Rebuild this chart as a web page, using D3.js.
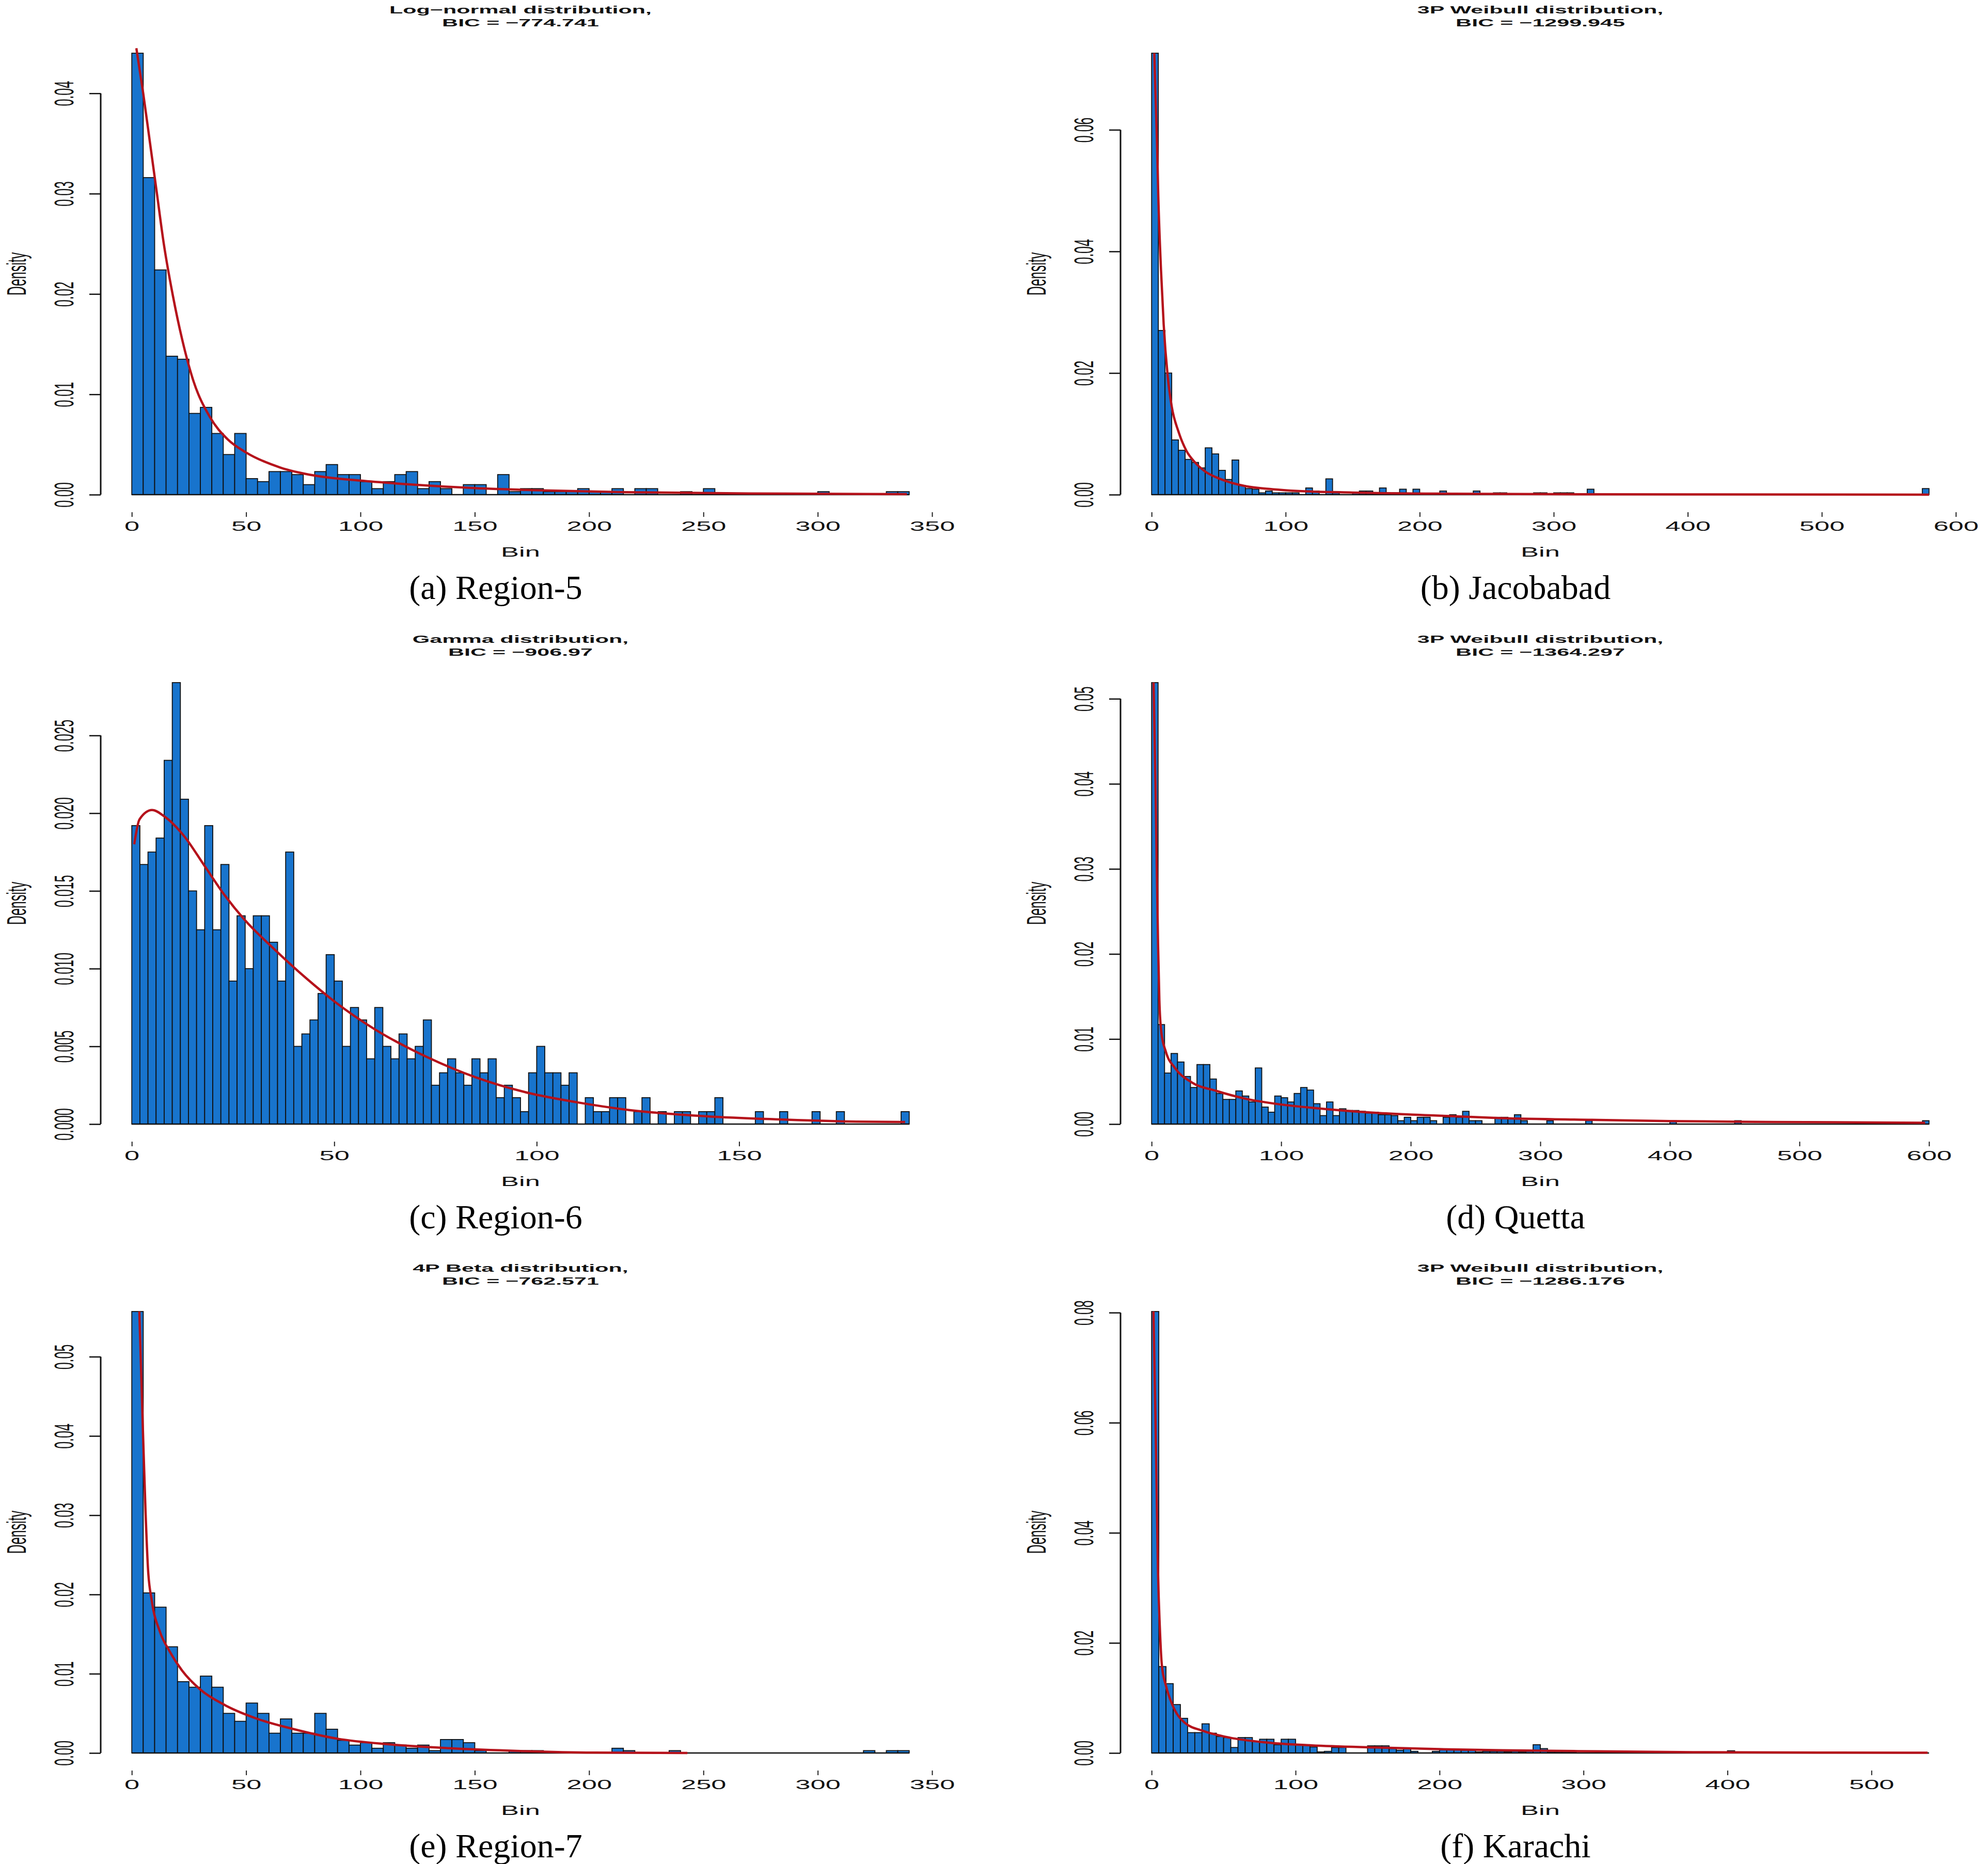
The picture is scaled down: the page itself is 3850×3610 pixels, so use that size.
<!DOCTYPE html>
<html>
<head>
<meta charset="utf-8">
<script src="https://cdn.jsdelivr.net/npm/d3@7"></script>
<style>
  body { margin: 0; background: #fff; }
  text { font-family: "Liberation Sans", Arial, sans-serif; }
</style>
</head>
<body>
<div id="fig"></div>
<script>
// ---- histogram densities (bins start at 0) and fitted curve points ----
var region5Bars = [0.0440,0.0316,0.0224,0.0138,0.0135,0.0081,0.0087,0.0061,0.0040,0.0061,
  0.0016,0.0013,0.0023,0.0023,0.0020,0.0010,0.0023,0.0030,0.0020,0.0020,
  0.0013,0.0006,0.0013,0.0020,0.0023,0.0006,0.0013,0.0006,0,0.0010,
  0.0010,0,0.0020,0.0003,0.0006,0.0006,0.0003,0.0003,0.0003,0.0006,
  0.0003,0.0003,0.0006,0,0.0006,0.0006,0,0,0.0003,0,
  0.0006,0,0,0,0,0,0,0,0,0,
  0.0003,0,0,0,0,0,0.0003,0.0003];
var region5Curve = [[2,0.0445],[5,0.0400],[8,0.0350],[11,0.0300],[14,0.0250],[18,0.0198],[22,0.0155],
  [27,0.0113],[34,0.0078],[42,0.0055],[50,0.0042],[65,0.0027],[80,0.0019],[100,0.0014],[121,0.00103],
  [150,0.00065],[175,0.00045],[216,0.00025],[270,0.00012],[339,0.00005]];

var jacobabadBars = [0.0726,0.0270,0.0200,0.0090,0.0073,0.0058,0.0053,0.0044,0.0077,0.0067,
  0.0040,0.0025,0.0057,0.0015,0.0010,0.0009,0.0003,0.0006,0.0003,0.0003,
  0.0003,0.0003,0,0.0011,0.0006,0,0.0026,0.0003,0,0,
  0.0003,0.0006,0.0006,0,0.0011,0,0.0003,0.0009,0,0.0009,
  0,0,0,0.0006,0,0,0,0,0.0006,0,
  0,0.0003,0.0003,0,0,0,0,0.0003,0.0003,0,
  0.0003,0.0003,0.0003,0,0,0.0009,0,0,0,0,
  0,0,0,0,0,0,0,0,0,0,
  0,0,0,0,0,0,0,0,0,0,
  0,0,0,0,0,0,0,0,0,0,
  0,0,0,0,0,0,0,0,0,0,
  0,0,0,0,0,0.0010];
var jacobabadCurve = [[2,0.0726],[4,0.058],[5,0.049],[7,0.037],[9,0.028],[12,0.0195],[15,0.0145],
  [20,0.0104],[26,0.0072],[32,0.0054],[40,0.0038],[51,0.0026],[70,0.0014],[90,0.0009],[110,0.0006],
  [150,0.00035],[225,0.00015],[300,0.00008],[400,0.00004],[580,0.00001]];

var region6Bars = [0.0192,0.0167,0.0175,0.0184,0.0234,0.0284,0.0209,0.0150,0.0125,0.0192,
  0.0125,0.0167,0.0092,0.0134,0.0100,0.0134,0.0134,0.0117,0.0092,0.0175,
  0.0050,0.0058,0.0067,0.0084,0.0109,0.0092,0.0050,0.0075,0.0067,0.0042,
  0.0075,0.0050,0.0042,0.0058,0.0042,0.0050,0.0067,0.0025,0.0033,0.0042,
  0.0033,0.0025,0.0042,0.0033,0.0042,0.0017,0.0025,0.0017,0.0008,0.0033,
  0.0050,0.0033,0.0033,0.0025,0.0033,0,0.0017,0.0008,0.0008,0.0017,
  0.0017,0,0.0008,0.0017,0,0.0008,0,0.0008,0.0008,0,
  0.0008,0.0008,0.0017,0,0,0,0,0.0008,0,0,
  0.0008,0,0,0,0.0008,0,0,0.0008,0,0,
  0,0,0,0,0,0.0008];
var region6Curve = [[0.6,0.0180],[1.9,0.0196],[5,0.0202],[8,0.0198],[13,0.0185],[18,0.0166],[23,0.0147],
  [28,0.0131],[35,0.0113],[43,0.0094],[50,0.0079],[60,0.0061],[73,0.0043],[85,0.0030],[98,0.0020],
  [110,0.0014],[123,0.0009],[142,0.0005],[160,0.0003],[179,0.00016],[191,0.00013]];

var quettaBars = [0.0519,0.0117,0.0060,0.0083,0.0073,0.0056,0.0043,0.0070,0.0070,0.0053,
  0.0036,0.0029,0.0029,0.0039,0.0033,0.0026,0.0066,0.0020,0.0014,0.0033,
  0.0031,0.0026,0.0036,0.0043,0.0040,0.0024,0.0010,0.0026,0.0010,0.0018,
  0.0016,0.0016,0.0015,0.0013,0.0014,0.0011,0.0011,0.0010,0.0004,0.0008,
  0.0004,0.0008,0.0008,0.0004,0,0.0008,0.0011,0.0008,0.0015,0.0004,
  0.0004,0,0,0.0008,0.0008,0.0006,0.0011,0.0004,0,0,
  0,0.0004,0,0,0,0,0,0.0004,0,0,
  0,0,0,0,0,0,0,0,0,0,
  0.0004,0,0,0,0,0,0,0,0,0,
  0.0004,0,0,0,0,0,0,0,0,0,
  0,0,0,0,0,0,0,0,0,0,
  0,0,0,0,0,0,0,0,0,0.0004];
var quettaCurve = [[1.5,0.0519],[3,0.040],[4,0.030],[5,0.021],[6,0.0145],[7.5,0.0108],[11,0.0085],
  [18,0.0066],[31,0.0049],[50,0.0039],[72,0.0030],[100,0.0023],[125,0.0019],[175,0.0013],[220,0.0010],
  [270,0.0007],[340,0.0005],[400,0.00035],[480,0.00025],[597,0.00015]];

var region7Bars = [0.0557,0.0202,0.0184,0.0134,0.0090,0.0083,0.0097,0.0083,0.0050,0.0040,
  0.0063,0.0050,0.0025,0.0043,0.0025,0.0025,0.0050,0.0030,0.0016,0.0010,
  0.0013,0.0006,0.0013,0.0010,0.0006,0.0010,0.0003,0.0017,0.0017,0.0013,
  0.0003,0,0,0.0003,0.0003,0.0003,0,0,0,0,
  0,0,0.0006,0.0003,0,0,0,0.0003,0,0,
  0,0,0,0,0,0,0,0,0,0,
  0,0,0,0,0.0003,0,0.0003,0.0003];
var region7Curve = [[3.3,0.0557],[4.9,0.0404],[6,0.0306],[7.1,0.0232],[8.7,0.0193],[12.3,0.0153],
  [16.4,0.0129],[22,0.0104],[30,0.0080],[41,0.0060],[55,0.0043],[71,0.0030],[90,0.0018],[112,0.0011],
  [139,0.0006],[170,0.00025],[202,0.00005],[243,0]];

var karachiBars = [0.0802,0.0157,0.0126,0.0088,0.0063,0.0037,0.0037,0.0053,0.0036,0.0030,
  0.0028,0.0010,0.0028,0.0028,0.0021,0.0025,0.0025,0.0015,0.0025,0.0025,
  0.0014,0.0014,0.0011,0.0002,0.0003,0.0010,0.0010,0,0,0,
  0.0013,0.0013,0.0013,0.0008,0.0005,0.0008,0.0003,0,0,0.0003,
  0.0006,0.0006,0.0006,0.0005,0.0005,0.0002,0.0003,0.0003,0.0003,0.0002,
  0.0003,0.0002,0.0003,0.0015,0.0008,0.0002,0.0002,0.0002,0.0002,0,
  0,0,0.0002,0.0002,0.0002,0,0,0,0,0,
  0,0,0,0,0,0,0,0,0,0,
  0.0004,0,0,0,0,0,0,0,0,0,
  0,0,0,0,0,0,0,0,0,0,
  0,0,0,0,0,0,0,0];
var karachiCurve = [[1.3,0.0802],[2.6,0.062],[3.5,0.0477],[4.4,0.0335],[5.7,0.0229],[7.1,0.0160],
  [10,0.0122],[14.5,0.0087],[23,0.0055],[36,0.0040],[54,0.0028],[80,0.0019],[110,0.0014],[155,0.0010],
  [200,0.0007],[244,0.0005],[310,0.0003],[376,0.00015],[464,0.00008],[539,0.00004]];

// ---- ticks, titles, captions ----
var xTicks350 = [0,50,100,150,200,250,300,350];
var xTicks600 = [0,100,200,300,400,500,600];
var xTicks150 = [0,50,100,150];
var xTicks500 = [0,100,200,300,400,500];
var yTicksA = [0,0.01,0.02,0.03,0.04],  yLabelsA = ["0.00","0.01","0.02","0.03","0.04"];
var yTicksB = [0,0.02,0.04,0.06],       yLabelsB = ["0.00","0.02","0.04","0.06"];
var yTicksC = [0,0.005,0.01,0.015,0.02,0.025], yLabelsC = ["0.000","0.005","0.010","0.015","0.020","0.025"];
var yTicksD = [0,0.01,0.02,0.03,0.04,0.05], yLabelsD = ["0.00","0.01","0.02","0.03","0.04","0.05"];
var yTicksF = [0,0.02,0.04,0.06,0.08],  yLabelsF = ["0.00","0.02","0.04","0.06","0.08"];
var titles = [
  ["Log\u2212normal distribution,", "BIC = \u2212774.741"],
  ["3P Weibull distribution,", "BIC = \u22121299.945"],
  ["Gamma distribution,", "BIC = \u2212906.97"],
  ["3P Weibull distribution,", "BIC = \u22121364.297"],
  ["4P Beta distribution,", "BIC = \u2212762.571"],
  ["3P Weibull distribution,", "BIC = \u22121286.176"]
];
var captions = ["(a) Region-5", "(b) Jacobabad", "(c) Region-6", "(d) Quetta", "(e) Region-7", "(f) Karachi"];

var panels = [
  {bars: region5Bars,   curve: region5Curve,   bin: 5, xt: xTicks350, yt: yTicksA, yl: yLabelsA},
  {bars: jacobabadBars, curve: jacobabadCurve, bin: 5, xt: xTicks600, yt: yTicksB, yl: yLabelsB},
  {bars: region6Bars,   curve: region6Curve,   bin: 2, xt: xTicks150, yt: yTicksC, yl: yLabelsC},
  {bars: quettaBars,    curve: quettaCurve,    bin: 5, xt: xTicks600, yt: yTicksD, yl: yLabelsD},
  {bars: region7Bars,   curve: region7Curve,   bin: 5, xt: xTicks350, yt: yTicksD, yl: yLabelsD},
  {bars: karachiBars,   curve: karachiCurve,   bin: 5, xt: xTicks500, yt: yTicksF, yl: yLabelsF}
];

// layout
var SX = 2.1;               // the R plots were stretched horizontally
var colLeft = [195, 2170];  // left edge of plot region
var plotW = 1626;
var rowBase = [958, 2177, 3395];
var barH = 855;             // pixel height of tallest bar

var svg = d3.select("#fig").append("svg")
  .attr("width", 3850).attr("height", 3610)
  .style("background", "#fff");

panels.forEach(function(p, i) {
  var col = i % 2, row = Math.floor(i / 2);
  var L = colLeft[col], base = rowBase[row];
  var hi = p.bars.length * p.bin;
  var x = d3.scaleLinear().domain([-0.04 * hi, hi * 1.04]).range([L, L + plotW]);
  var y = d3.scaleLinear().domain([0, d3.max(p.bars)]).range([base, base - barH]);
  var g = svg.append("g");

  // bars
  g.selectAll("rect").data(p.bars).enter().append("rect")
    .attr("x", function(d, k) { return x(k * p.bin); })
    .attr("width", function(d, k) { return x((k + 1) * p.bin) - x(k * p.bin); })
    .attr("y", function(d) { return y(d); })
    .attr("height", function(d) { return base - y(d); })
    .attr("fill", "#1874CD")
    .attr("stroke", "#111")
    .attr("stroke-width", 1.8);

  // empty bins still show their bottom edge
  g.append("line")
    .attr("x1", x(0)).attr("x2", x(hi))
    .attr("y1", base).attr("y2", base)
    .attr("stroke", "#111").attr("stroke-width", 2.5);

  // fitted density
  g.append("path").datum(p.curve)
    .attr("d", d3.line().x(function(d) { return x(d[0]); }).y(function(d) { return y(d[1]); })
      .curve(d3.curveMonotoneX))
    .attr("fill", "none").attr("stroke", "#B5121B").attr("stroke-width", 4.5);

  // x axis (ticks only)
  var xa = g.append("g").attr("transform", "translate(0," + (base + 34) + ")")
    .call(d3.axisBottom(x).tickValues(p.xt).tickSize(9).tickPadding(8).tickFormat(d3.format("d")));
  xa.select(".domain").remove();
  xa.selectAll("line").attr("stroke", "#222").attr("stroke-width", 2);
  xa.selectAll("text").attr("font-size", 25).attr("fill", "#111")
    .attr("font-family", "Liberation Sans, Arial, sans-serif")
    .attr("y", 36).attr("dy", null)
    .attr("transform", "scale(" + SX + ",1)");

  // y axis
  var ya = g.append("g").attr("transform", "translate(" + L + ",0)")
    .call(d3.axisLeft(y).tickValues(p.yt).tickSize(22).tickSizeOuter(0)
      .tickFormat(function(d, k) { return p.yl[k]; }));
  ya.select(".domain").remove();
  ya.append("line")
    .attr("x1", 0).attr("x2", 0)
    .attr("y1", y(p.yt[0])).attr("y2", y(p.yt[p.yt.length - 1]))
    .attr("stroke", "#111").attr("stroke-width", 3);
  ya.selectAll(".tick line").attr("stroke", "#111").attr("stroke-width", 2.5);
  ya.selectAll("text").attr("font-size", 25).attr("fill", "#111")
    .attr("font-family", "Liberation Sans, Arial, sans-serif")
    .attr("x", null).attr("dy", null).attr("text-anchor", "middle")
    .attr("transform", "translate(-53,0) scale(" + SX + ",1) rotate(-90)");

  // axis titles
  svg.append("text").text("Bin")
    .attr("text-anchor", "middle").attr("font-size", 25).attr("fill", "#111")
    .attr("transform", "translate(" + (L + plotW / 2) + "," + (base + 120) + ") scale(" + SX + ",1)");
  svg.append("text").text("Density")
    .attr("text-anchor", "middle").attr("font-size", 25).attr("fill", "#111")
    .attr("transform", "translate(" + (L - 145) + "," + (base - barH / 2) + ") scale(" + SX + ",1) rotate(-90)");

  // main title
  var top = base - 958;
  titles[i].forEach(function(t, k) {
    svg.append("text").text(t)
      .attr("text-anchor", "middle").attr("font-size", 20.5).attr("font-weight", "bold").attr("fill", "#111")
      .attr("transform", "translate(" + (L + plotW / 2) + "," + (top + 26 + k * 25) + ") scale(" + SX + ",1)");
  });

  // caption
  svg.append("text").text(captions[i])
    .attr("x", L + 765).attr("y", top + 1160)
    .attr("text-anchor", "middle")
    .style("font-family", "'Liberation Serif', 'Times New Roman', serif")
    .attr("font-size", 66).attr("fill", "#000");
});
</script>
</body>
</html>
